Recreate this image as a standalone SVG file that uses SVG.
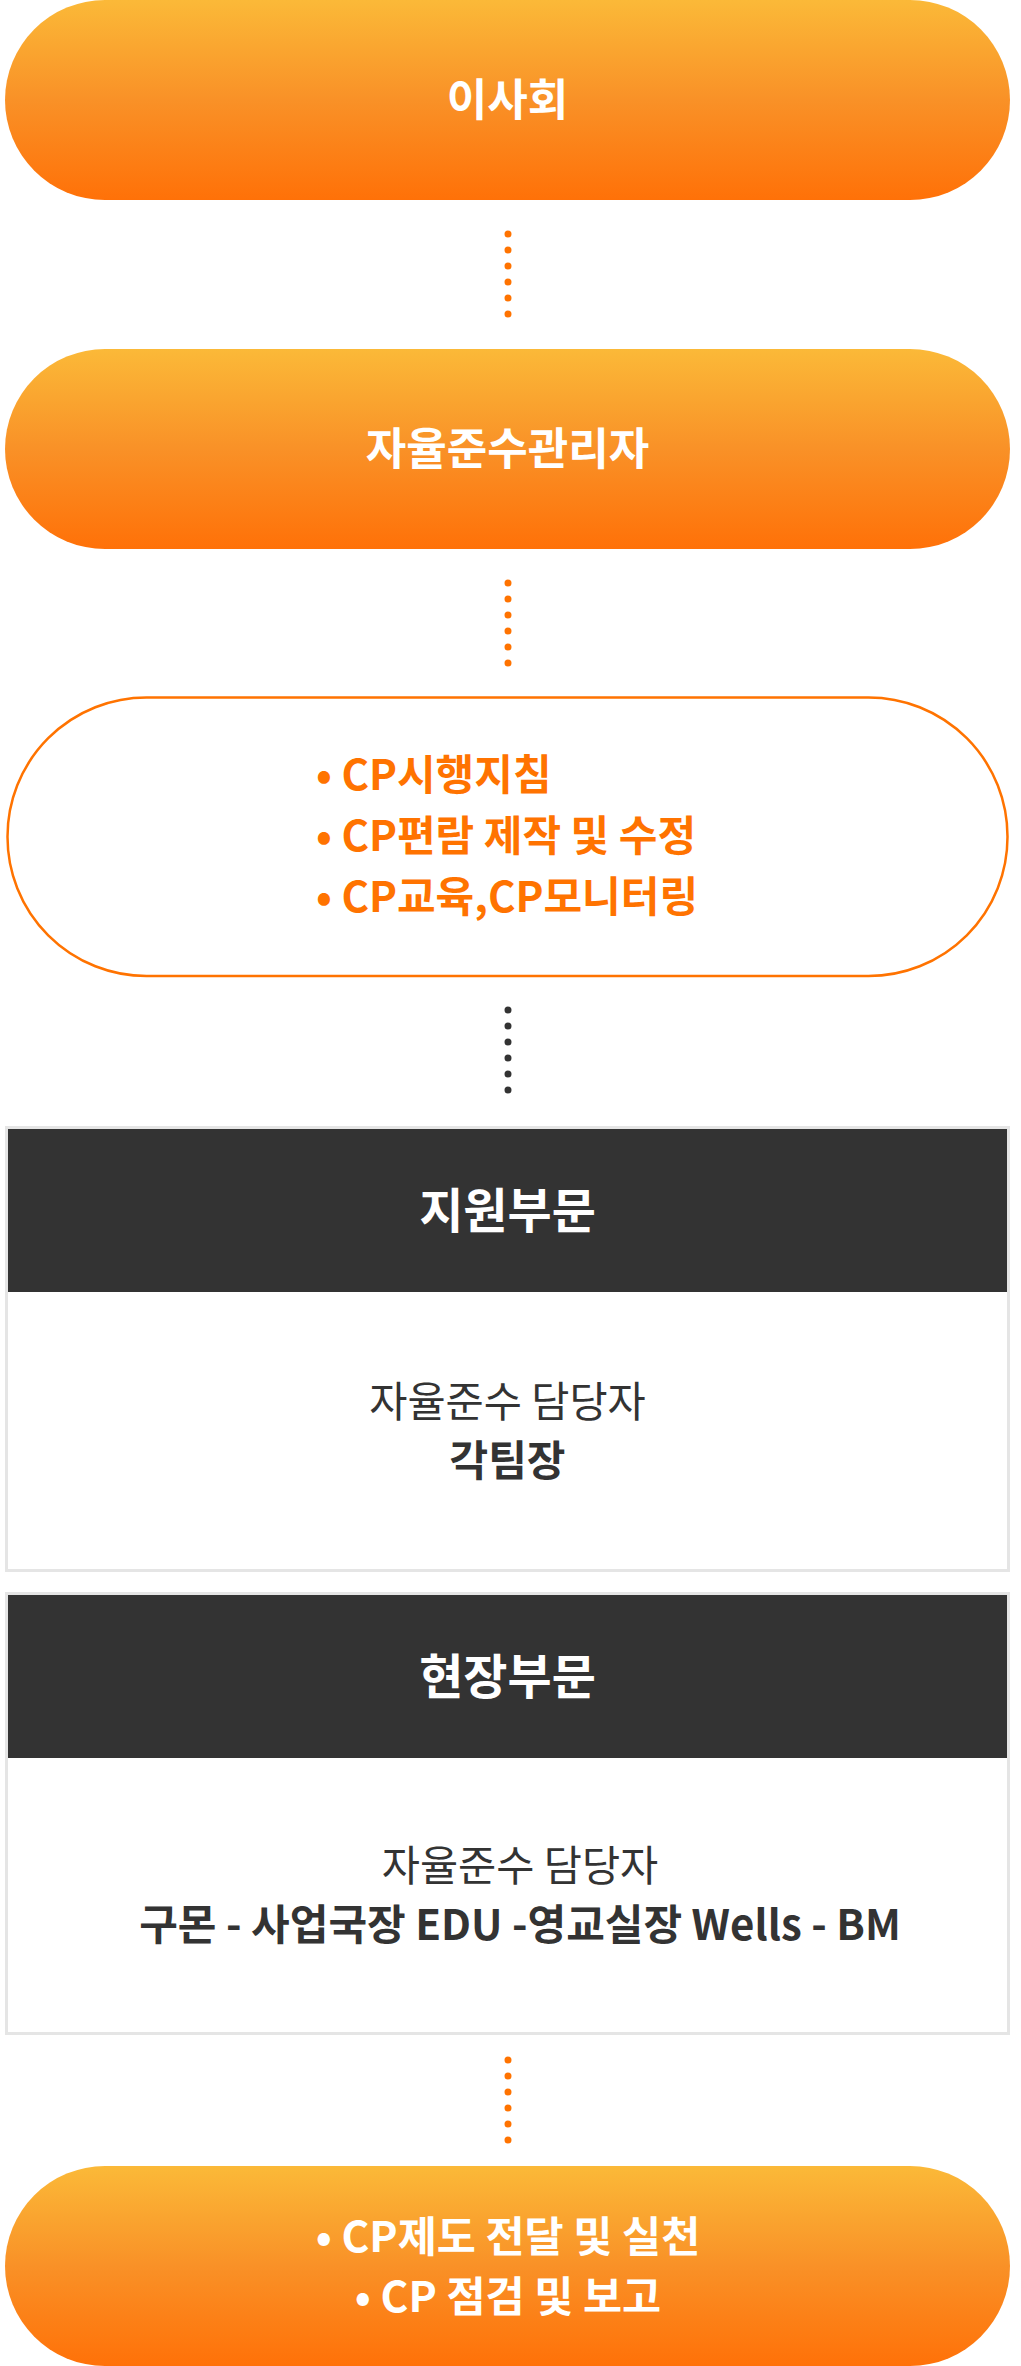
<svg xmlns="http://www.w3.org/2000/svg" width="1021" height="2366" viewBox="0 0 1021 2366">
<defs>
<linearGradient id="og" x1="0" y1="0" x2="0" y2="1">
<stop offset="0" stop-color="#fbb938"/>
<stop offset="0.5" stop-color="#f99127"/>
<stop offset="1" stop-color="#ff7108"/>
</linearGradient>
<style>
text{font-family:"Noto Sans CJK KR","Noto Sans",sans-serif;text-anchor:middle}
.pill{fill:url(#og)}
.pt{fill:#fff;font-size:44px;font-weight:700}
.pl{fill:#fff;font-size:42.5px;font-weight:700}
.ot{fill:#ff7300;font-size:42px;font-weight:700;text-anchor:start}
.box{fill:#fff;stroke:#e5e5e5;stroke-width:3}
.hd{fill:#333}
.ht{fill:#fff;font-size:48px;font-weight:700}
.br{fill:#333;font-size:41.5px;font-weight:400}
.bb{fill:#333;font-size:42px;font-weight:700}
.dot{fill:none;stroke-width:7;stroke-linecap:round;stroke-dasharray:0 16}
</style>
</defs>
<g id="connectors">
<line class="dot" x1="508" y1="234" x2="508" y2="316" stroke="#ff7300"/>
<line class="dot" x1="508" y1="583" x2="508" y2="665" stroke="#ff7300"/>
<line class="dot" x1="508" y1="1010" x2="508" y2="1092" stroke="#333"/>
<line class="dot" x1="508" y1="2060" x2="508" y2="2142" stroke="#ff7300"/>
</g>
<g id="board">
<rect class="pill" x="5" y="0" width="1005" height="200" rx="100"/>
<text class="pt" x="507.5" y="116">이사회</text>
</g>
<g id="manager">
<rect class="pill" x="5" y="349" width="1005" height="200" rx="100"/>
<text class="pt" x="507.5" y="465">자율준수관리자</text>
</g>
<g id="duties">
<rect x="7.5" y="697.5" width="1000" height="278.5" rx="139" fill="#fff" stroke="#ff7300" stroke-width="2.5"/>
<text class="ot" x="316" y="790">• CP시행지침</text>
<text class="ot" x="316" y="851">• CP편람 제작 및 수정</text>
<text class="ot" x="316" y="912">• CP교육,CP모니터링</text>
</g>
<g id="support">
<rect class="box" x="6.5" y="1127.5" width="1002" height="443"/>
<rect class="hd" x="8" y="1129" width="999" height="163"/>
<text class="ht" x="507.5" y="1228">지원부문</text>
<text class="br" x="507.5" y="1417">자율준수 담당자</text>
<text class="bb" x="507.5" y="1476">각팀장</text>
</g>
<g id="field">
<rect class="box" x="6.5" y="1593.5" width="1002" height="440"/>
<rect class="hd" x="8" y="1595" width="999" height="163"/>
<text class="ht" x="507.5" y="1694">현장부문</text>
<text class="br" x="520" y="1881">자율준수 담당자</text>
<text class="bb" x="520" y="1940">구몬 - 사업국장 EDU -영교실장 Wells - BM</text>
</g>
<g id="practice">
<rect class="pill" x="5" y="2166" width="1005" height="200" rx="100"/>
<text class="pl" x="508" y="2252">• CP제도 전달 및 실천</text>
<text class="pl" x="508" y="2312">• CP 점검 및 보고</text>
</g>
</svg>
